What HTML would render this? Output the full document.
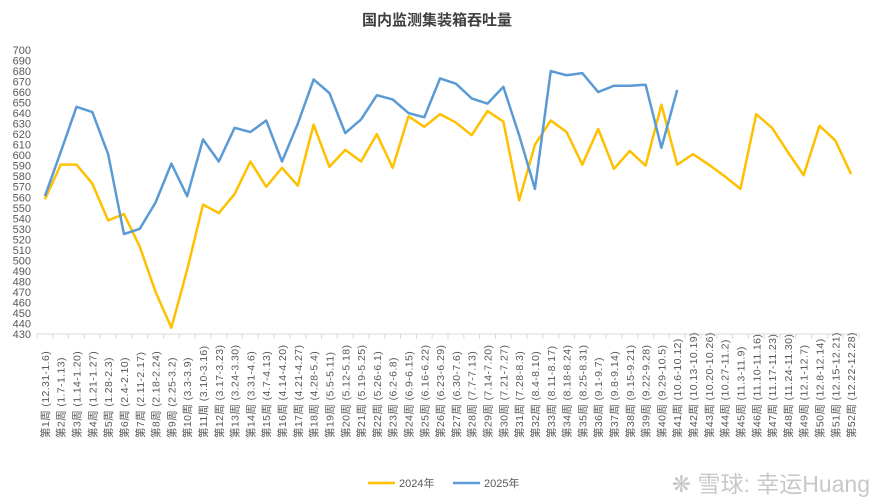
<!DOCTYPE html>
<html><head><meta charset="utf-8"><style>
body{margin:0;background:#fff;}
svg{display:block;font-family:"Liberation Sans","Noto Sans CJK SC",sans-serif;}
</style></head><body>
<svg id="chart" width="875" height="503">
<rect width="875" height="503" fill="#fff"/>
<text x="437" y="25" text-anchor="middle" font-size="15" font-weight="bold" fill="#404040">国内监测集装箱吞吐量</text>
<g id="axes"></g><g id="series"></g>
<g>
<line x1="368" y1="483" x2="395" y2="483" stroke="#FFC000" stroke-width="2.5"/>
<text x="399" y="487" font-size="11" fill="#595959">2024年</text>
<line x1="453" y1="483" x2="480" y2="483" stroke="#5B9BD5" stroke-width="2.5"/>
<text x="484" y="487" font-size="11" fill="#595959">2025年</text>
</g>
<text x="870" y="492" text-anchor="end" font-size="23" fill="#c8c8c8">❋ 雪球: 幸运Huang</text>
</svg>
<script>
const weeks=["第1周 (12.31-1.6)","第2周 (1.7-1.13)","第3周 (1.14-1.20)","第4周 (1.21-1.27)","第5周 (1.28-2.3)","第6周 (2.4-2.10)","第7周 (2.11-2.17)","第8周 (2.18-2.24)","第9周 (2.25-3.2)","第10周 (3.3-3.9)","第11周 (3.10-3.16)","第12周 (3.17-3.23)","第13周 (3.24-3.30)","第14周 (3.31-4.6)","第15周 (4.7-4.13)","第16周 (4.14-4.20)","第17周 (4.21-4.27)","第18周 (4.28-5.4)","第19周 (5.5-5.11)","第20周 (5.12-5.18)","第21周 (5.19-5.25)","第22周 (5.26-6.1)","第23周 (6.2-6.8)","第24周 (6.9-6.15)","第25周 (6.16-6.22)","第26周 (6.23-6.29)","第27周 (6.30-7.6)","第28周 (7.7-7.13)","第29周 (7.14-7.20)","第30周 (7.21-7.27)","第31周 (7.28-8.3)","第32周 (8.4-8.10)","第33周 (8.11-8.17)","第34周 (8.18-8.24)","第35周 (8.25-8.31)","第36周 (9.1-9.7)","第37周 (9.8-9.14)","第38周 (9.15-9.21)","第39周 (9.22-9.28)","第40周 (9.29-10.5)","第41周 (10.6-10.12)","第42周 (10.13-10.19)","第43周 (10.20-10.26)","第44周 (10.27-11.2)","第45周 (11.3-11.9)","第46周 (11.10-11.16)","第47周 (11.17-11.23)","第48周 (11.24-11.30)","第49周 (12.1-12.7)","第50周 (12.8-12.14)","第51周 (12.15-12.21)","第52周 (12.22-12.28)"];
const values2024=[558,591,591,573,538,544,513,470,436,491,553,545,563,594,570,588,571,629,589,605,594,620,588,637,627,639,631,619,642,632,557,610,633,622,591,625,587,604,590,648,591,601,591,580,568,639,626,603,581,628,614,582];
const values2025=[561,603,646,641,601,525,530,555,592,561,615,594,626,622,633,594,630,672,659,621,634,657,653,640,636,673,668,654,649,665,619,568,680,676,678,660,666,666,667,607,662];
const yTicks=[430,440,450,460,470,480,490,500,510,520,530,540,550,560,570,580,590,600,610,620,630,640,650,660,670,680,690,700];
const NS="http://www.w3.org/2000/svg";
const x0=37,x1=859,yTop=50,yBot=334,ymin=430,ymax=700;
const step=(x1-x0)/weeks.length;
const xs=i=>x0+step*(i+0.5);
const ys=v=>yBot-(v-ymin)/(ymax-ymin)*(yBot-yTop);
const axes=document.getElementById('axes'),ser=document.getElementById('series');
function mk(t,a,p){const e=document.createElementNS(NS,t);for(const k in a)e.setAttribute(k,a[k]);p.appendChild(e);return e;}
yTicks.forEach(v=>{const t=mk('text',{x:31,y:ys(v)+4,'text-anchor':'end','font-size':11,fill:'#595959'},axes);t.textContent=v;

});
const ax=mk('line',{x1:x0,y1:yBot,x2:x1,y2:yBot,stroke:'#d9d9d9'},axes);


for(let i=0;i<=weeks.length;i++){mk('line',{x1:x0+step*i,y1:yBot,x2:x0+step*i,y2:yBot+5,stroke:'#d9d9d9'},axes);}
weeks.forEach((w,i)=>{const x=xs(i)+4;const t=mk('text',{x:x,y:438,transform:`rotate(-90 ${x} 438)`,'font-size':10.5,'letter-spacing':'0.4',fill:'#595959'},axes);t.textContent=w;

});
function line(vals,color,name){const p=mk('polyline',{points:vals.map((v,i)=>xs(i)+','+ys(v)).join(' '),fill:'none',stroke:color,'stroke-width':2.5,'stroke-linejoin':'round'},ser);

}
line(values2024,'#FFC000','series-2024');
line(values2025,'#5B9BD5','series-2025');
</script>
</body></html>
